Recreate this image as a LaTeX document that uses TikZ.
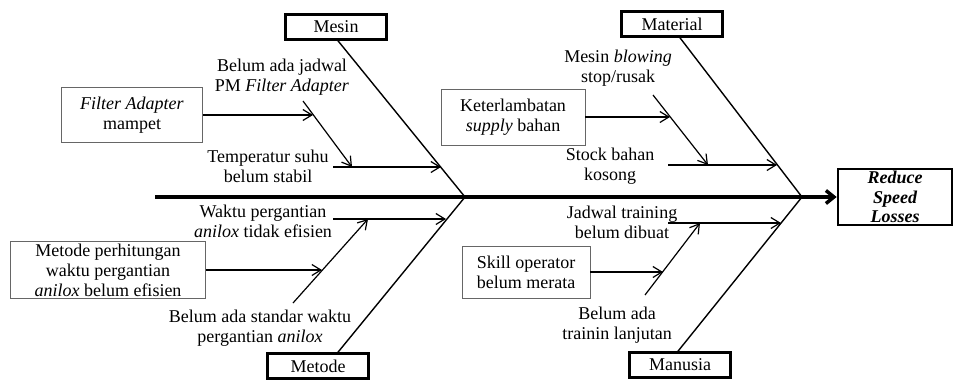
\documentclass[tikz,border=0pt]{standalone}
\usepackage{fontspec}
\setmainfont{Liberation Serif}
\usetikzlibrary{arrows.meta, positioning, calc}
\tikzset{
  cat/.style    = {rectangle, draw=black, line width=2.6pt, minimum width=101pt,
                   minimum height=25pt, inner sep=2pt},
  cause/.style  = {rectangle, draw=black!60, line width=0.8pt, align=center, inner sep=2pt},
  effect/.style = {rectangle, draw=black, line width=2.6pt, align=center,
                   minimum width=114pt, minimum height=56pt, inner sep=1pt,
                   font=\fontsize{18}{19.5}\selectfont\bfseries\itshape},
  lbl/.style    = {align=center, inner sep=0pt},
  bone/.style   = {line width=1.4pt},
  sub/.style    = {-{Straight Barb[length=9pt,width=11pt]}, line width=1.2pt},
  spine/.style  = {-{Straight Barb[length=8pt,width=13pt]}, line width=3.5pt}
}

\begin{document}
\begin{tikzpicture}[x=1pt, y=-1pt, font=\fontsize{18}{20}\selectfont]
  \useasboundingbox (0,0) rectangle (954,380);
  % head and spine
  \node[effect] (eff) at (895,197) {Reduce\\Speed\\Losses};
  \coordinate (tail) at (155,197);
  \draw[spine] (tail) -- (eff.west);
  \coordinate (jl) at (465,197);
  \coordinate (jr) at (802,197);
  % categories
  \node[cat] (mesin)    at (336,27)  {Mesin};
  \node[cat] (material) at (672,24)  {Material};
  \node[cat] (metode)   at (318,366) {Metode};
  \node[cat] (manusia)  at (680,365) {Manusia};
  \draw[bone] ([xshift=2pt]mesin.south) -- (jl);
  \draw[bone] ([xshift=8pt]material.south) -- (jr);
  \draw[bone] ([xshift=20pt]metode.north) -- (jl);
  \draw[bone] ([xshift=-2pt]manusia.north) -- (jr);

  % Mesin
  \node[cause, minimum width=141pt, minimum height=55pt] (filter) at (132,115)
    {\textit{Filter Adapter}\\mampet};
  \node[lbl] (jadwalpm) at (282,77)  {Belum ada jadwal\\PM \textit{Filter Adapter}};
  \node[lbl] (suhu)     at (268,166) {Temperatur suhu\\belum stabil};
  \coordinate (mesA) at (303,101); \coordinate (mesB) at (352,167);
  \coordinate (mesC) at (333,167); \coordinate (mesD) at (441,167);
  \coordinate (mesE) at (313,115);
  \draw[sub] (mesA) -- (mesB);
  \draw[sub] (mesC) -- (mesD);
  \draw[sub] (filter.east) -- (mesE);

  % Material
  \node[cause, minimum width=144pt, minimum height=56pt] (supply) at (513,117)
    {Keterlambatan\\\textit{supply} bahan};
  \node[lbl] (blowing) at (618,68)  {Mesin \textit{blowing}\\stop/rusak};
  \node[lbl] (stock)   at (610,166) {Stock bahan\\kosong};
  \coordinate (matA) at (653,95);  \coordinate (matB) at (708,165);
  \coordinate (matC) at (668,165); \coordinate (matD) at (777,165);
  \coordinate (matE) at (670,117);
  \draw[sub] (matA) -- (matB);
  \draw[sub] (matC) -- (matD);
  \draw[sub] (supply.east) -- (matE);

  % Metode
  \node[cause, minimum width=195pt, minimum height=55pt] (hitung) at (108,270)
    {Metode perhitungan\\waktu pergantian\\\textit{anilox} belum efisien};
  \node[lbl] (waktu)   at (263,221) {Waktu pergantian\\\textit{anilox} tidak efisien};
  \node[lbl] (standar) at (260,328) {Belum ada standar waktu\\pergantian \textit{anilox}};
  \coordinate (metA) at (293,303); \coordinate (metB) at (368,219);
  \coordinate (metC) at (333,219); \coordinate (metD) at (446,219);
  \coordinate (metE) at (322,270);
  \draw[sub] (metA) -- (metB);
  \draw[sub] (metC) -- (metD);
  \draw[sub] (hitung.east) -- (metE);

  % Manusia
  \node[cause, minimum width=128pt, minimum height=52pt] (skill) at (526,272)
    {Skill operator\\belum merata};
  \node[lbl] (training) at (622,222) {Jadwal training\\belum dibuat};
  \node[lbl] (lanjutan) at (617,325) {Belum ada\\trainin lanjutan};
  \coordinate (manA) at (645,295); \coordinate (manB) at (700,223);
  \coordinate (manC) at (668,223); \coordinate (manD) at (781,223);
  \coordinate (manE) at (663,272);
  \draw[sub] (manA) -- (manB);
  \draw[sub] (manC) -- (manD);
  \draw[sub] (skill.east) -- (manE);
\end{tikzpicture}
\end{document}
